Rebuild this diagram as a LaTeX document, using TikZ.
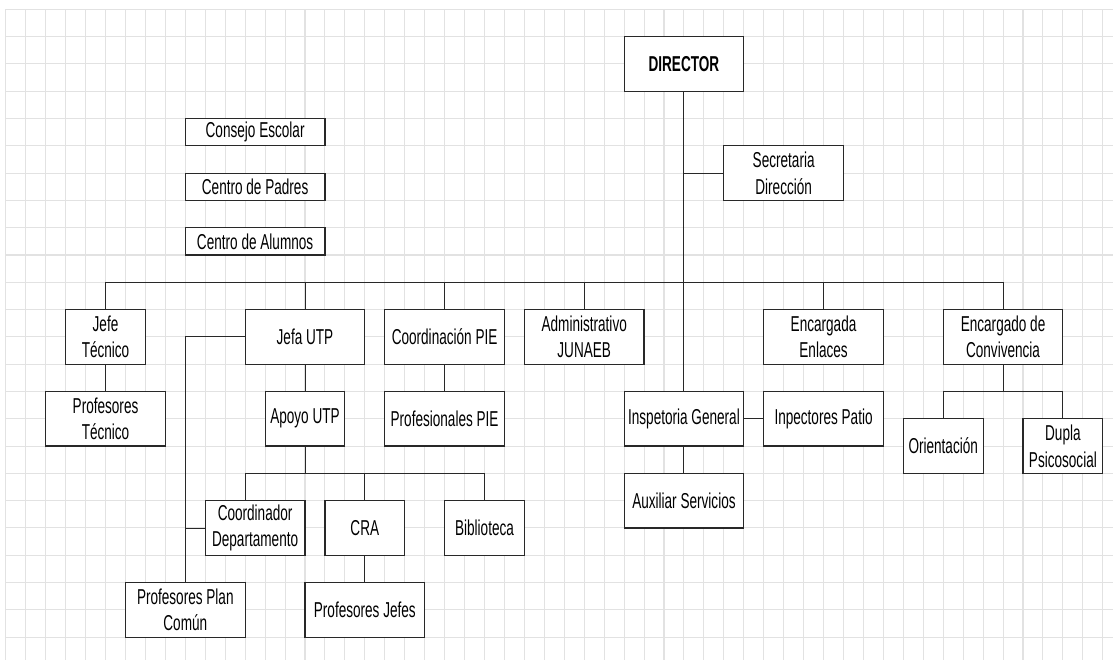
\documentclass[tikz,border=0pt]{standalone}
\usepackage{fontspec}
\setmainfont[FakeStretch=0.63]{Liberation Sans}
\usepackage{xcolor}
\definecolor{gris}{RGB}{226,226,226}
\definecolor{borde}{RGB}{40,40,40}
\usetikzlibrary{positioning}
\usetikzlibrary{calc}

\newcommand{\colw}{0.5984cm}
\newcommand{\rowh}{0.819cm}

\tikzset{
  cargo/.style={draw=borde, line width=1pt, fill=white, inner sep=0pt, align=center,
    font=\fontsize{18.4}{22.8}\selectfont},
  ancho/.style={minimum width=#1*\colw},
  alto/.style={minimum height=#1*\rowh},
  enlace/.style={draw=borde, line width=0.8pt},
  rejilla/.style={draw=gris, line width=0.9pt}
}

\begin{document}
\begin{tikzpicture}[x=\colw, y=-\rowh]

\useasboundingbox (-0.2908,-0.3407) rectangle (55.512,23.835);
\fill[white] (-0.2908,-0.3407) rectangle (55.512,23.835);

% grid
\foreach \c in {0,...,55} \draw[rejilla] (\c,0) -- (\c,23.835);
\foreach \r in {0,...,23} \draw[rejilla] (0,\r) -- (55.512,\r);

% councils
\node[cargo, ancho=7, alto=1] (consejo) at (12.5,4.5) {Consejo Escolar};
\node[cargo, ancho=7, alto=1] (padres) at (12.5,6.5) {Centro de Padres};
\node[cargo, ancho=7, alto=1] (alumnos) at (12.5,8.5) {Centro de Alumnos};

% direction
\node[cargo, ancho=6, alto=2] (dir) at (34,2) {\textbf{DIRECTOR}};
\node[cargo, ancho=6, alto=2] (sec) at (39,6) {Secretaria\\Dirección};

% first level
\node[cargo, ancho=4, alto=2] (jt) at (5,12) {Jefe\\Técnico};
\node[cargo, ancho=6, alto=2] (jutp) at (15,12) {Jefa UTP};
\node[cargo, ancho=6, alto=2] (cpie) at (22,12) {Coordinación PIE};
\node[cargo, ancho=6, alto=2] (junaeb) at (29,12) {Administrativo\\JUNAEB};
\node[cargo, ancho=6, alto=2] (enl) at (41,12) {Encargada\\Enlaces};
\node[cargo, ancho=6, alto=2] (conv) at (50,12) {Encargado de\\Convivencia};

% second level
\node[cargo, ancho=6, alto=2] (pt) at (5,15) {Profesores\\Técnico};
\node[cargo, ancho=4, alto=2] (autp) at (15,15) {Apoyo UTP};
\node[cargo, ancho=6, alto=2] (ppie) at (22,15) {Profesionales PIE};
\node[cargo, ancho=6, alto=2] (insp) at (34,15) {Inspetoria General};
\node[cargo, ancho=6, alto=2] (ip) at (41,15) {Inpectores Patio};
\node[cargo, ancho=4, alto=2] (ori) at (47,16) {Orientación};
\node[cargo, ancho=4, alto=2] (dupla) at (53,16) {Dupla\\Psicosocial};
\node[cargo, ancho=6, alto=2] (aux) at (34,18) {Auxiliar Servicios};

% UTP branch
\node[cargo, ancho=5, alto=2] (cd) at (12.5,19) {Coordinador\\Departamento};
\node[cargo, ancho=4, alto=2] (cra) at (18,19) {CRA};
\node[cargo, ancho=4, alto=2] (bib) at (24,19) {Biblioteca};
\node[cargo, ancho=6, alto=2] (ppc) at (9,22) {Profesores Plan\\Común};
\node[cargo, ancho=6, alto=2] (pj) at (18,22) {Profesores Jefes};

% links
\coordinate (bus) at (34,10);
\coordinate (busutp) at (15,17);
\coordinate (busconv) at (50,14);

\draw[enlace] (dir.south) -- (insp.north);
\draw[enlace] (sec.west) -- (sec.west -| dir.south);
\draw[enlace] (jt.north) |- (bus -| conv.north) -- (conv.north);
\foreach \n in {jutp,cpie,junaeb,enl}
  \draw[enlace] (\n.north) -- (\n.north |- bus);

\draw[enlace] (jt.south) -- (pt.north);
\draw[enlace] (jutp.south) -- (autp.north);
\draw[enlace] (cpie.south) -- (ppie.north);
\draw[enlace] (jutp.west) -| (ppc.north);
\draw[enlace] (cd.west) -- (cd.west -| ppc.north);

\draw[enlace] (autp.south) -- (busutp);
\draw[enlace] ($(cd.north)+(-0.5,0)$) |- (busutp -| bib.north) -- (bib.north);
\draw[enlace] (cra.north) -- (cra.north |- busutp);
\draw[enlace] (cra.south) -- (pj.north);

\draw[enlace] (insp.south) -- (aux.north);
\draw[enlace] (insp.east) -- (ip.west);
\draw[enlace] (conv.south) -- (busconv);
\draw[enlace] (ori.north) |- (busconv -| dupla.north) -- (dupla.north);

\end{tikzpicture}
\end{document}
